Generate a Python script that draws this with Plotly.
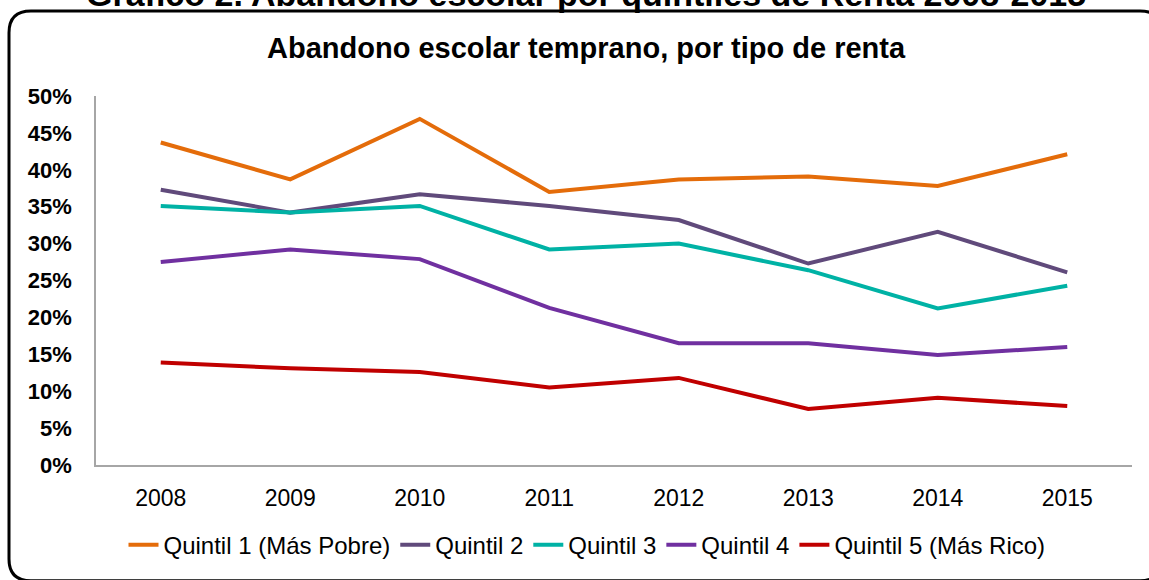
import plotly.graph_objects as go

years = ["2008", "2009", "2010", "2011", "2012", "2013", "2014", "2015"]
q1 = [43.7, 38.7, 46.9, 37.0, 38.7, 39.1, 37.8, 42.1]
q2 = [37.3, 34.2, 36.7, 35.1, 33.2, 27.3, 31.6, 26.1]
q3 = [35.1, 34.2, 35.1, 29.2, 30.0, 26.4, 21.2, 24.3]
q4 = [27.5, 29.2, 27.9, 21.3, 16.5, 16.5, 14.9, 16.0]
q5 = [13.9, 13.1, 12.6, 10.5, 11.8, 7.6, 9.1, 8.0]
series_names = ["Quintil 1 (Más Pobre)", "Quintil 2", "Quintil 3", "Quintil 4", "Quintil 5 (Más Rico)"]
series_values = [q1, q2, q3, q4, q5]
colors = ["#E46C0A", "#604A7B", "#00B2A5", "#7030A0", "#C00000"]

W, H = 1149, 580
L, R, T, B = 96, 1132, 96, 469
FONT = "Liberation Sans, Arial, sans-serif"

def px(x):
    return (x - L) / (R - L)

def py(y):
    return (B - y) / (B - T)

fig = go.Figure()
for name, vals, c in zip(series_names, series_values, colors):
    fig.add_trace(go.Scatter(x=years, y=vals, mode="lines", name=name,
                             line=dict(color=c, width=4)))

# rounded border (right and bottom edges run past the picture, as in the reference)
x0, y0, x1, y1, r = 9, 10, 1162, 586, 22
path = (f"M {px(x0)},{py(y0 + r)} Q {px(x0)},{py(y0)} {px(x0 + r)},{py(y0)} "
        f"L {px(x1 - r)},{py(y0)} Q {px(x1)},{py(y0)} {px(x1)},{py(y0 + r)} "
        f"L {px(x1)},{py(y1 - r)} Q {px(x1)},{py(y1)} {px(x1 - r)},{py(y1)} "
        f"L {px(x0 + r)},{py(y1)} Q {px(x0)},{py(y1)} {px(x0)},{py(y1 - r)} Z")

fig.update_layout(
    width=W, height=H,
    margin=dict(l=L, r=W - R, t=T, b=H - B, pad=0),
    paper_bgcolor="white", plot_bgcolor="white",
    font=dict(family=FONT, color="black"),
    showlegend=True,
    legend=dict(orientation="h", x=px(587), xanchor="center", y=py(550), yanchor="middle",
                font=dict(size=24, family=FONT), itemwidth=30, tracegroupgap=0,
                bgcolor="rgba(0,0,0,0)"),
    xaxis=dict(type="category", range=[-0.5, 7.5], showgrid=False, showline=True,
               linecolor="#A6A6A6", linewidth=1.5, ticks="", tickfont=dict(size=23, family=FONT),
               ticklabelstandoff=12, zeroline=False, fixedrange=True),
    yaxis=dict(range=[0, 50], dtick=5, showgrid=False, showline=True, ticksuffix="%",
               linecolor="#A6A6A6", linewidth=1.5, ticks="",
               tickfont=dict(size=22, family=FONT, weight="bold"),
               ticklabelstandoff=18, zeroline=False, fixedrange=True),
    shapes=[dict(type="path", xref="paper", yref="paper", path=path,
                 line=dict(color="black", width=3), layer="above")],
    annotations=[
        dict(text="<b>Abandono escolar temprano, por tipo de renta</b>", xref="paper", yref="paper",
             x=px(586.5), y=py(47.5), xanchor="center", yanchor="middle", showarrow=False,
             font=dict(size=29, family=FONT)),
        dict(text="<b>Gráfico 2. Abandono escolar por quintiles de Renta 2008-2015</b>", xref="paper", yref="paper",
             x=px(585.5), y=py(-7), xanchor="center", yanchor="middle", showarrow=False,
             font=dict(size=34, family=FONT)),
    ],
)

fig.write_html("out.html", config={"displayModeBar": False},
               post_script="document.body.style.margin='0';document.body.style.overflow='hidden';")
